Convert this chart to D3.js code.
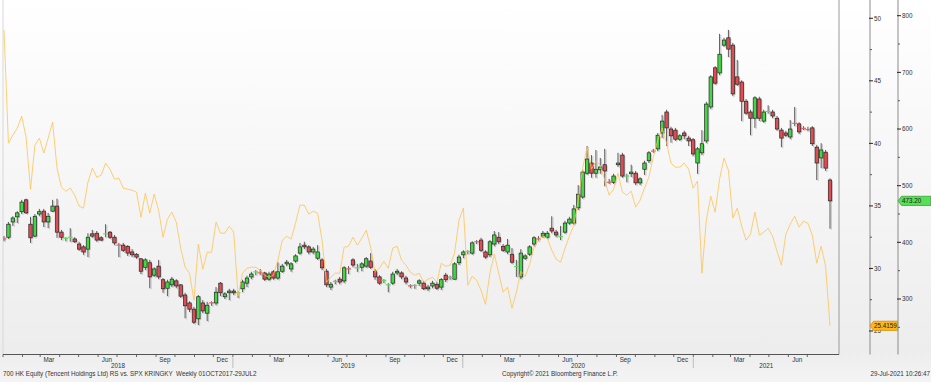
<!DOCTYPE html>
<html>
<head>
<meta charset="utf-8">
<script src="https://cdn.jsdelivr.net/npm/d3@7"></script>
<style>
	body { margin: 0; background: #fff; }
	svg { display: block; font-family: "Liberation Sans", Arial, sans-serif; }
</style>
</head>
<body>
<svg width="931" height="382"></svg>
<script>

// weekly candles, 700 HK (HKD), one entry per week from the left edge to 29-Jul-2021
const openP = [408,409,436,445,454,475,432,411,450,455,436,455,464,418,406,408,406,397,392,388,
	415,416,408,413,418,409,396,395,393,383,379,371,356,364,342,358,334,319,325,332,
	325,307,293,282,265,293,275,294,293,328,304,311,314,310,318,328,339,346,348,346,
	335,348,337,349,362,353,367,381,395,392,383,372,369,349,321,330,335,332,355,369,
	354,356,358,367,349,339,332,324,328,346,346,337,324,323,328,328,318,323,326,321,
	342,337,335,364,378,383,381,402,404,383,378,397,409,393,383,379,356,339,372,379,
	397,408,411,409,425,418,409,418,434,434,461,480,522,540,522,528,537,508,506,537,
	554,516,521,522,505,529,544,562,565,593,630,600,598,582,593,584,581,540,558,579,
	639,708,699,748,761,748,692,683,649,630,619,653,614,630,630,619,598,593,586,611,
	609,602,600,602,568,549,559,510];
const highP = [411,436,446,455,475,477,445,450,459,459,452,475,477,422,409,425,409,401,395,416,
	422,420,411,432,420,413,399,399,395,388,381,372,372,369,356,369,337,334,339,335,
	326,311,296,286,307,298,295,296,321,330,312,318,318,314,334,341,348,351,353,348,
	348,351,365,362,369,365,379,399,401,395,392,395,372,353,330,334,339,358,358,372,
	362,365,374,381,353,342,335,328,348,353,349,341,326,326,335,332,325,332,330,337,
	346,341,365,378,386,386,402,404,408,386,404,420,418,397,406,390,369,388,379,395,
	411,411,420,420,446,422,429,438,445,466,501,528,570,554,563,549,565,512,521,558,
	558,521,537,526,515,544,561,565,593,625,634,604,602,591,597,588,584,568,598,648,
	695,711,768,761,775,752,722,686,653,634,658,657,634,642,634,623,602,597,616,639,
	612,605,604,605,572,575,563,513];
const lowP = [402,406,429,434,450,450,399,409,446,427,425,454,408,404,402,401,399,385,378,374,
	408,401,402,409,406,395,374,383,376,374,371,344,351,319,339,335,311,305,321,319,
	302,266,277,256,254,275,261,288,289,305,300,298,307,302,312,321,335,342,342,332,
	332,334,334,346,358,348,364,378,388,379,379,369,351,321,316,326,326,328,344,356,
	348,349,355,353,334,325,328,312,325,342,335,326,319,318,323,316,314,319,316,316,
	330,334,334,360,372,379,378,397,383,371,374,393,397,383,379,362,339,335,369,376,
	393,402,408,406,416,409,404,415,431,431,457,477,519,514,514,521,499,503,503,533,
	514,506,515,501,501,519,540,558,561,584,570,576,579,579,582,570,552,521,554,575,
	635,678,695,745,727,658,676,614,625,589,602,614,611,627,619,597,568,586,582,605,
	591,598,596,570,510,531,526,424];
const closeP = [406,432,443,452,471,452,408,446,454,436,446,464,418,409,407,409,401,388,383,409,
	411,404,404,415,409,399,395,386,381,378,374,349,369,339,353,339,318,330,335,323,
	305,288,282,259,304,279,289,293,312,311,309,314,311,311,330,337,344,348,346,335,
	344,337,348,358,365,362,376,392,392,383,388,383,355,325,326,331,330,355,353,360,
	355,362,371,356,339,328,333,325,344,349,339,330,323,324,332,318,321,328,319,334,
	334,338,362,374,383,384,399,401,386,374,401,413,401,386,395,365,357,381,376,392,
	408,406,416,416,420,413,410,434,441,459,485,524,547,522,529,533,526,506,517,540,
	517,517,524,505,512,540,558,561,589,614,602,588,582,588,588,579,556,565,574,644,
	692,681,732,757,741,662,679,649,628,619,655,619,630,631,623,600,584,589,600,610,
	595,601,599,574,540,563,531,473.20];

// relative strength vs SPX, same weeks
const rsVal = [49.06,40.02,40.66,41.22,42.18,40.50,36.34,39.86,40.42,39.22,40.42,41.70,38.02,36.50,36.18,36.42,35.86,34.98,34.82,36.90,
	38.02,37.30,37.46,38.42,37.94,37.14,37.22,36.42,36.34,36.26,36.10,34.10,36.02,34.42,35.94,34.66,32.50,33.94,34.50,33.70,
	31.62,30.10,29.62,27.46,31.94,29.94,31.30,31.30,33.70,32.82,32.82,33.38,32.90,27.78,29.62,30.02,30.10,30.10,29.86,29.46,
	29.30,29.46,30.66,32.26,32.58,32.34,33.62,35.06,35.06,34.34,34.58,34.42,32.26,28.90,29.30,29.62,29.62,31.70,31.78,32.50,
	31.86,32.42,33.06,31.70,29.70,30.02,30.58,30.02,31.62,31.78,30.66,30.26,29.70,29.46,29.62,28.90,29.14,29.30,28.90,30.42,
	30.18,30.26,31.22,33.86,34.82,28.66,29.38,29.06,28.26,27.14,29.62,31.14,29.62,28.10,28.50,26.82,28.10,29.78,29.38,30.34,
	31.70,32.26,32.58,32.42,31.46,30.74,30.50,31.62,32.58,33.46,35.46,38.02,39.70,37.94,38.58,38.26,37.06,35.86,36.34,37.62,
	36.10,35.86,36.18,34.90,35.46,36.42,37.30,38.90,40.26,41.22,40.02,38.42,38.10,38.10,38.42,37.94,36.42,36.98,29.62,33.86,
	35.78,34.50,37.14,38.82,37.86,34.02,34.82,33.38,32.26,32.74,34.50,32.66,32.90,33.22,32.58,31.38,30.26,32.74,33.54,34.18,
	33.30,33.78,33.62,32.66,30.42,31.78,30.18,25.4159];

const priceTicks = [300, 400, 500, 600, 700, 800];
const priceMinor = [250, 350, 450, 550, 650, 750];
const rsTicks = [25, 30, 35, 40, 45, 50];
const rsMinor = [27.5, 32.5, 37.5, 42.5, 47.5];
const quarterMonths = ['Mar', 'Jun', 'Sep', 'Dec'];
const years = [2018, 2019, 2020, 2021];

const footerLeft = '700 HK Equity (Tencent Holdings Ltd) RS vs. SPX KRINGKY  Weekly 01OCT2017-29JUL2';
const footerMid = 'Copyright\u00a9 2021 Bloomberg Finance L.P.';
const footerRight = '29-Jul-2021 10:26:47';

const PLOT = { left: 3, right: 839, top: 0, bottom: 354.5 };
const RS_AXIS_X = 870;
const PX_AXIS_X = 898;
const FONT = 6.3;

const svg = d3.select('svg');
const n = closeP.length;

const x = d3.scaleLinear().domain([0, n - 1]).range([4, 830]);
const xTime = d3.scaleTime()
	.domain([new Date(2018, 0, 1), new Date(2021, 0, 1)])
	.range([3, 693.3]);
const yPrice = d3.scaleLinear().domain([300, 800]).range([299, 15.7]);
const yRs = d3.scaleLinear().domain([25, 50]).range([331, 18.3]);

// background
const defs = svg.append('defs');
const grad = defs.append('linearGradient')
	.attr('id', 'bg')
	.attr('gradientUnits', 'userSpaceOnUse')
	.attr('x1', 0).attr('y1', 0).attr('x2', 0).attr('y2', 382);
grad.append('stop').attr('offset', '0%').attr('stop-color', '#ffffff');
grad.append('stop').attr('offset', '92%').attr('stop-color', '#ededed');
grad.append('stop').attr('offset', '100%').attr('stop-color', '#f4f4f4');

svg.append('rect').attr('width', 931).attr('height', 382).attr('fill', 'url(#bg)');

defs.append('clipPath').attr('id', 'plotClip')
	.append('rect')
	.attr('x', PLOT.left).attr('y', PLOT.top)
	.attr('width', PLOT.right - PLOT.left).attr('height', PLOT.bottom - PLOT.top);

// frame
svg.append('line')
	.attr('x1', PLOT.left).attr('x2', PLOT.left)
	.attr('y1', 0).attr('y2', PLOT.bottom)
	.attr('stroke', '#d8d8d8');
svg.append('line')
	.attr('x1', PLOT.right).attr('x2', PLOT.right)
	.attr('y1', 0).attr('y2', PLOT.bottom)
	.attr('stroke', '#9a9a9a');
svg.append('line')
	.attr('x1', PLOT.left).attr('x2', PLOT.right)
	.attr('y1', PLOT.bottom).attr('y2', PLOT.bottom)
	.attr('stroke', '#555');

const plot = svg.append('g').attr('clip-path', 'url(#plotClip)');

// candles
const candles = d3.range(n).map(i => ({
	i: i, o: openP[i], h: highP[i], l: lowP[i], c: closeP[i]
}));
const bodyW = 3.4;

const shadow = plot.append('g').attr('opacity', 0.55);
shadow.selectAll('line')
	.data(candles)
	.enter()
	.append('line')
	.attr('x1', d => x(d.i) + 1.3).attr('x2', d => x(d.i) + 1.3)
	.attr('y1', d => yPrice(d.h) + 1).attr('y2', d => yPrice(d.l) + 1)
	.attr('stroke', '#9c9c9c')
	.attr('stroke-width', 1);
shadow.selectAll('rect')
	.data(candles.filter(d => Math.abs(yPrice(d.o) - yPrice(d.c)) >= 1.5))
	.enter()
	.append('rect')
	.attr('x', d => x(d.i) - bodyW / 2 + 1.3)
	.attr('y', d => Math.min(yPrice(d.o), yPrice(d.c)) + 1)
	.attr('width', bodyW)
	.attr('height', d => Math.abs(yPrice(d.o) - yPrice(d.c)))
	.attr('fill', '#a8a8a8');

plot.append('g').selectAll('line')
	.data(candles)
	.enter()
	.append('line')
	.attr('x1', d => x(d.i)).attr('x2', d => x(d.i))
	.attr('y1', d => yPrice(d.h)).attr('y2', d => yPrice(d.l))
	.attr('stroke', '#4a4a4a')
	.attr('stroke-width', 0.9);

const bodies = candles.filter(d => Math.abs(yPrice(d.o) - yPrice(d.c)) >= 1.5);
const dojis = candles.filter(d => Math.abs(yPrice(d.o) - yPrice(d.c)) < 1.5);

plot.append('g').selectAll('rect')
	.data(bodies)
	.enter()
	.append('rect')
	.attr('x', d => x(d.i) - bodyW / 2)
	.attr('y', d => Math.min(yPrice(d.o), yPrice(d.c)))
	.attr('width', bodyW)
	.attr('height', d => Math.abs(yPrice(d.o) - yPrice(d.c)))
	.attr('fill', d => d.c >= d.o ? '#43d843' : '#e04c52')
	.attr('stroke', '#262626')
	.attr('stroke-width', 0.7);

plot.append('g').selectAll('line')
	.data(dojis)
	.enter()
	.append('line')
	.attr('x1', d => x(d.i) - 2.4).attr('x2', d => x(d.i) + 2.4)
	.attr('y1', d => yPrice(d.c)).attr('y2', d => yPrice(d.c))
	.attr('stroke', d => d.c >= d.o ? '#5ce05c' : '#f06068')
	.attr('stroke-width', 1.2);

// RS line
const line = d3.line()
	.x((d, i) => x(i))
	.y(d => yRs(d));

plot.append('path')
	.datum(rsVal)
	.attr('d', line)
	.attr('fill', 'none')
	.attr('stroke', '#ffc24f')
	.attr('stroke-width', 1)
	.attr('stroke-opacity', 0.78);

// value axes on the right
function valueAxis(ax, scale, major, minor, fmt) {
	const g = svg.append('g');
	g.append('line')
		.attr('x1', ax).attr('x2', ax)
		.attr('y1', 0).attr('y2', PLOT.bottom)
		.attr('stroke', '#8c8c8c');
	g.selectAll('.minor')
		.data(minor)
		.enter()
		.append('line')
		.attr('class', 'minor')
		.attr('x1', ax).attr('x2', ax + 2)
		.attr('y1', d => scale(d)).attr('y2', d => scale(d))
		.attr('stroke', '#333')
		.attr('stroke-width', 0.8);
	g.selectAll('.major')
		.data(major)
		.enter()
		.append('line')
		.attr('class', 'major')
		.attr('x1', ax - 1).attr('x2', ax + 3)
		.attr('y1', d => scale(d)).attr('y2', d => scale(d))
		.attr('stroke', '#222')
		.attr('stroke-width', 1);
	g.selectAll('text')
		.data(major)
		.enter()
		.append('text')
		.attr('x', ax + 4)
		.attr('y', d => scale(d) + 2.2)
		.attr('font-size', FONT)
		.attr('fill', '#333')
		.text(fmt);
}

valueAxis(RS_AXIS_X, yRs, rsTicks, rsMinor, d => d);
valueAxis(PX_AXIS_X, yPrice, priceTicks, priceMinor, d => d);

// last value tags
function tag(ax, right, yv, fill, stroke, label) {
	const h = 4.6;
	svg.append('path')
		.attr('d', `M${ax},${yv} L${ax + 3.5},${yv - h} L${right},${yv - h} L${right},${yv + h} L${ax + 3.5},${yv + h} Z`)
		.attr('fill', fill)
		.attr('stroke', stroke)
		.attr('stroke-width', 0.7);
	svg.append('text')
		.attr('x', ax + 4)
		.attr('y', yv + 2.2)
		.attr('font-size', FONT)
		.attr('fill', '#1a1a1a')
		.text(label);
}

tag(RS_AXIS_X, PX_AXIS_X - 0.5, yRs(rsVal[n - 1]), '#ffb619', '#c88a00', rsVal[n - 1].toFixed(4));
tag(PX_AXIS_X, 931, yPrice(closeP[n - 1]), '#55e055', '#2f9a2f', closeP[n - 1].toFixed(2));

// time axis
const start = new Date(2018, 0, 1);
const end = new Date(2021, 7, 1);
const months = d3.timeMonth.range(start, end).filter(d => xTime(d) <= PLOT.right);

svg.append('g').selectAll('line')
	.data(months)
	.enter()
	.append('line')
	.attr('x1', d => xTime(d)).attr('x2', d => xTime(d))
	.attr('y1', PLOT.bottom).attr('y2', PLOT.bottom + 2.5)
	.attr('stroke', '#444')
	.attr('stroke-width', 0.8);

const fmtMonth = d3.timeFormat('%b');
const labelMonths = months.filter(d => quarterMonths.includes(fmtMonth(d)));

svg.append('g').selectAll('text')
	.data(labelMonths)
	.enter()
	.append('text')
	.attr('x', d => xTime(new Date(d.getFullYear(), d.getMonth(), 15)))
	.attr('y', 361.6)
	.attr('text-anchor', 'middle')
	.attr('font-size', FONT)
	.attr('fill', '#333')
	.text(d => fmtMonth(d));

svg.append('g').selectAll('line')
	.data(years.slice(1))
	.enter()
	.append('line')
	.attr('x1', d => xTime(new Date(d, 0, 1))).attr('x2', d => xTime(new Date(d, 0, 1)))
	.attr('y1', 357.5).attr('y2', 368)
	.attr('stroke', '#b0b0b0')
	.attr('stroke-width', 0.8);

svg.append('g').selectAll('text')
	.data(years)
	.enter()
	.append('text')
	.attr('x', d => {
		const a = Math.max(PLOT.left, xTime(new Date(d, 0, 1)));
		const b = Math.min(PLOT.right, xTime(new Date(d + 1, 0, 1)));
		return (a + b) / 2;
	})
	.attr('y', 368.2)
	.attr('text-anchor', 'middle')
	.attr('font-size', FONT)
	.attr('fill', '#333')
	.text(d => d);

// footer
svg.append('text')
	.attr('x', 3).attr('y', 375.6)
	.attr('font-size', FONT).attr('fill', '#333')
	.attr('xml:space', 'preserve')
	.style('white-space', 'pre')
	.text(footerLeft);
svg.append('text')
	.attr('x', 502).attr('y', 375.6)
	.attr('font-size', FONT).attr('fill', '#333')
	.text(footerMid);
svg.append('text')
	.attr('x', 930).attr('y', 375.6)
	.attr('text-anchor', 'end')
	.attr('font-size', FONT).attr('fill', '#333')
	.text(footerRight);

</script>
</body>
</html>
